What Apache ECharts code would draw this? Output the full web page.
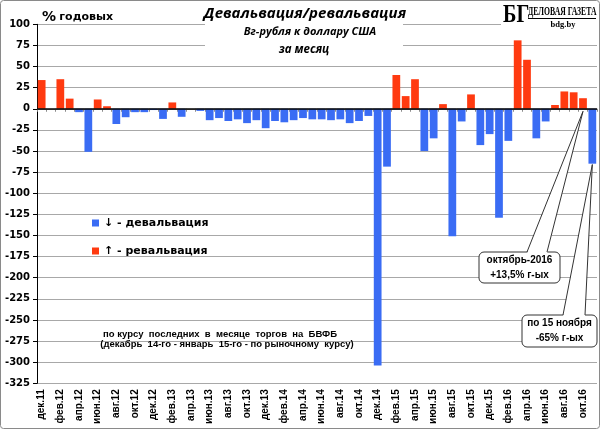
<!DOCTYPE html>
<html><head><meta charset="utf-8">
<script src="https://cdn.jsdelivr.net/npm/echarts@6/dist/echarts.min.js"></script>
<style>html,body{margin:0;padding:0;background:#fff}#c{width:600px;height:429px}</style>
</head><body><div id="c"></div>
<script>
const categories = [
  'дек.11',
  'янв.12','фев.12','мар.12','апр.12','май.12','июн.12','июл.12','авг.12','сен.12','окт.12','ноя.12','дек.12',
  'янв.13','фев.13','мар.13','апр.13','май.13','июн.13','июл.13','авг.13','сен.13','окт.13','ноя.13','дек.13',
  'янв.14','фев.14','мар.14','апр.14','май.14','июн.14','июл.14','авг.14','сен.14','окт.14','ноя.14','дек.14',
  'янв.15','фев.15','мар.15','апр.15','май.15','июн.15','июл.15','авг.15','сен.15','окт.15','ноя.15','дек.15',
  'янв.16','фев.16','мар.16','апр.16','май.16','июн.16','июл.16','авг.16','сен.16','окт.16','ноя.16'
];
const values = [
  34,
  null, 35, 12, -4, -51, 11, 3, -18, -10, -4, -4, -1.5,
  -12, 7.5, -9.5, null, -2.5, -13.5, -11, -14.5, -12.5, -17, -13.5, -23,
  -14.5, -16, -13.5, -11, -12.5, -12.5, -13.5, -12.5, -17, -14.5, -8.5, -304,
  -68.5, 40, 15, 35, -50, -35, 5.5, -151, -15, 17, -43, -30,
  -129, -38, 81, 58, -35, -15, 4.5, 20.5, 19.5, 12.5, -65
];
const yMin = -325, yMax = 100, yStep = 25;
const seriesNames = ['↓ - девальвация', '↑ - ревальвация'];
const devaluation = values.map(v => (v !== null && v < 0) ? v : '-');
const revaluation = values.map(v => (v !== null && v > 0) ? v : '-');

const BLUE = '#3a6cf4', RED = '#ff3a10';
const chart = echarts.init(document.getElementById('c'));
const option = {
  animation: false,
  backgroundColor: '#fff',
  grid: {left: 37, right: 3, top: 24.3, bottom: 45.7},
  xAxis: {
    type: 'category', data: categories,
    axisLine: {lineStyle: {color: '#8c8c8c'}},
    axisTick: {show: true, length: 3, interval: 0, lineStyle: {color: '#8c8c8c'}},
    axisLabel: {interval: 1, rotate: 90, margin: 6, fontFamily: 'Liberation Sans', fontWeight: 'bold', fontSize: 10, color: '#000'}
  },
  yAxis: {
    type: 'value', min: yMin, max: yMax, interval: yStep,
    axisLine: {show: true, lineStyle: {color: '#000'}},
    axisTick: {show: true, length: 4, lineStyle: {color: '#000'}},
    axisLabel: {margin: 7, fontFamily: 'DejaVu Sans', fontWeight: 'bold', fontSize: 10, color: '#000'},
    splitLine: {lineStyle: {color: '#a8a8a8', width: 1.2}}
  },
  legend: {
    orient: 'vertical', left: 92, top: 217.5, padding: 0, itemWidth: 7, itemHeight: 7, itemGap: 17,
    icon: 'rect',
    textStyle: {fontFamily: 'DejaVu Sans', fontWeight: 'bold', fontSize: 11, color: '#000'},
    data: seriesNames
  },
  series: [
    {name: seriesNames[0], type: 'bar', data: devaluation, barGap: '-100%', barCategoryGap: '17%',
     itemStyle: {color: BLUE},
     markLine: {silent: true, symbol: ['none', 'none'], label: {show: false},
       lineStyle: {color: '#000', width: 1.5, type: 'solid'}, data: [{yAxis: 0}]}},
    {name: seriesNames[1], type: 'bar', data: revaluation, barGap: '-100%', barCategoryGap: '17%',
     itemStyle: {color: RED}}
  ]
};
chart.setOption(option);

function callout(box, b0, b1, tip, txt) {
  return [
    {type: 'rect', z: 100, shape: {x: box.x, y: box.y, width: box.w, height: box.h, r: 5},
     style: {fill: '#fff', stroke: '#333', lineWidth: 1}},
    {type: 'polygon', z: 101, shape: {points: [[b0, box.y + 1.5], [b1, box.y + 1.5], tip]},
     style: {fill: '#fff'}},
    {type: 'polyline', z: 102, shape: {points: [[b0, box.y], tip, [b1, box.y]]},
     style: {stroke: '#333', lineWidth: 1, fill: null}},
    {type: 'text', z: 103, style: {text: txt, x: box.x + box.w / 2, y: box.y + box.h / 2,
      align: 'center', verticalAlign: 'middle', textAlign: 'center', textVerticalAlign: 'middle',
      fontFamily: 'Liberation Sans', fontWeight: 'bold', fontSize: 10, lineHeight: 15, fill: '#000'}}
  ];
}
const tip1 = chart.convertToPixel({seriesIndex: 0}, [categories[58], -3]);
const tip2 = chart.convertToPixel({seriesIndex: 0}, [categories[59], values[59] - 1]);

const T = (text, x, y, font, extra) => Object.assign({type: 'text', z: 100,
  style: Object.assign({text, x, y, font, fill: '#000', align: 'center', verticalAlign: 'middle',
    textAlign: 'center', textVerticalAlign: 'middle'}, extra || {})});

const graphics = [
  {type: 'rect', z: 99, shape: {x: 205, y: 1, width: 198, height: 55}, style: {fill: '#fff'}},
  {type: 'rect', z: 99, shape: {x: 501, y: 1, width: 98, height: 30}, style: {fill: '#fff'}},
  T('Девальвация/ревальвация', 305, 14, 'italic bold 15px "Open Sans"'),
  T('Вг-рубля к доллару США', 310, 32, 'italic bold 11px "Open Sans"'),
  T('за месяц', 304, 50, 'italic bold 11.5px "Open Sans"'),
  {type: 'text', z: 100, style: {x: 42, y: 17, verticalAlign: 'middle', textVerticalAlign: 'middle',
    text: '{a|%} {b|годовых}',
    rich: {a: {fontFamily: 'DejaVu Sans', fontWeight: 'bold', fontSize: 14, fill: '#000'},
           b: {fontFamily: 'DejaVu Sans', fontWeight: 'bold', fontSize: 11, fill: '#000'}}}},
  {type: 'text', z: 100, x: 503, y: 15, scaleX: 0.78, style: {text: 'БГ', x: 0, y: 0,
    font: 'bold 26px "Liberation Serif"', fill: '#000', verticalAlign: 'middle', textVerticalAlign: 'middle'}},
  {type: 'text', z: 100, x: 528, y: 12, scaleX: 0.64, style: {text: 'ДЕЛОВАЯ ГАЗЕТА', x: 0, y: 0,
    font: 'bold 12px "Liberation Serif"', fill: '#000', verticalAlign: 'middle', textVerticalAlign: 'middle'}},
  {type: 'line', z: 100, shape: {x1: 528, y1: 18.5, x2: 596, y2: 18.5}, style: {stroke: '#000', lineWidth: 1}},
  T('bdg.by', 563, 25, 'bold 8.5px "Liberation Serif"'),
  T('по курсу  последних  в  месяце  торгов  на  БВФБ', 220, 334, 'bold 9.5px "Liberation Sans"'),
  T('(декабрь  14-го - январь  15-го - по рыночному  курсу)', 227, 344.5, 'bold 9.5px "Liberation Sans"'),
  ...callout({x: 479, y: 252, w: 81, h: 31}, 527, 547, tip1, 'октябрь-2016\n+13,5% г-ых'),
  ...callout({x: 522, y: 315, w: 75, h: 32}, 563, 585, tip2, 'по 15 ноября\n-65% г-ых'),
  {type: 'rect', z: 110, shape: {x: 0.5, y: 0.5, width: 599, height: 428, r: 3},
   style: {fill: null, stroke: '#8a8a8a', lineWidth: 1}}
];
chart.setOption({graphic: graphics});
</script>
</body></html>
